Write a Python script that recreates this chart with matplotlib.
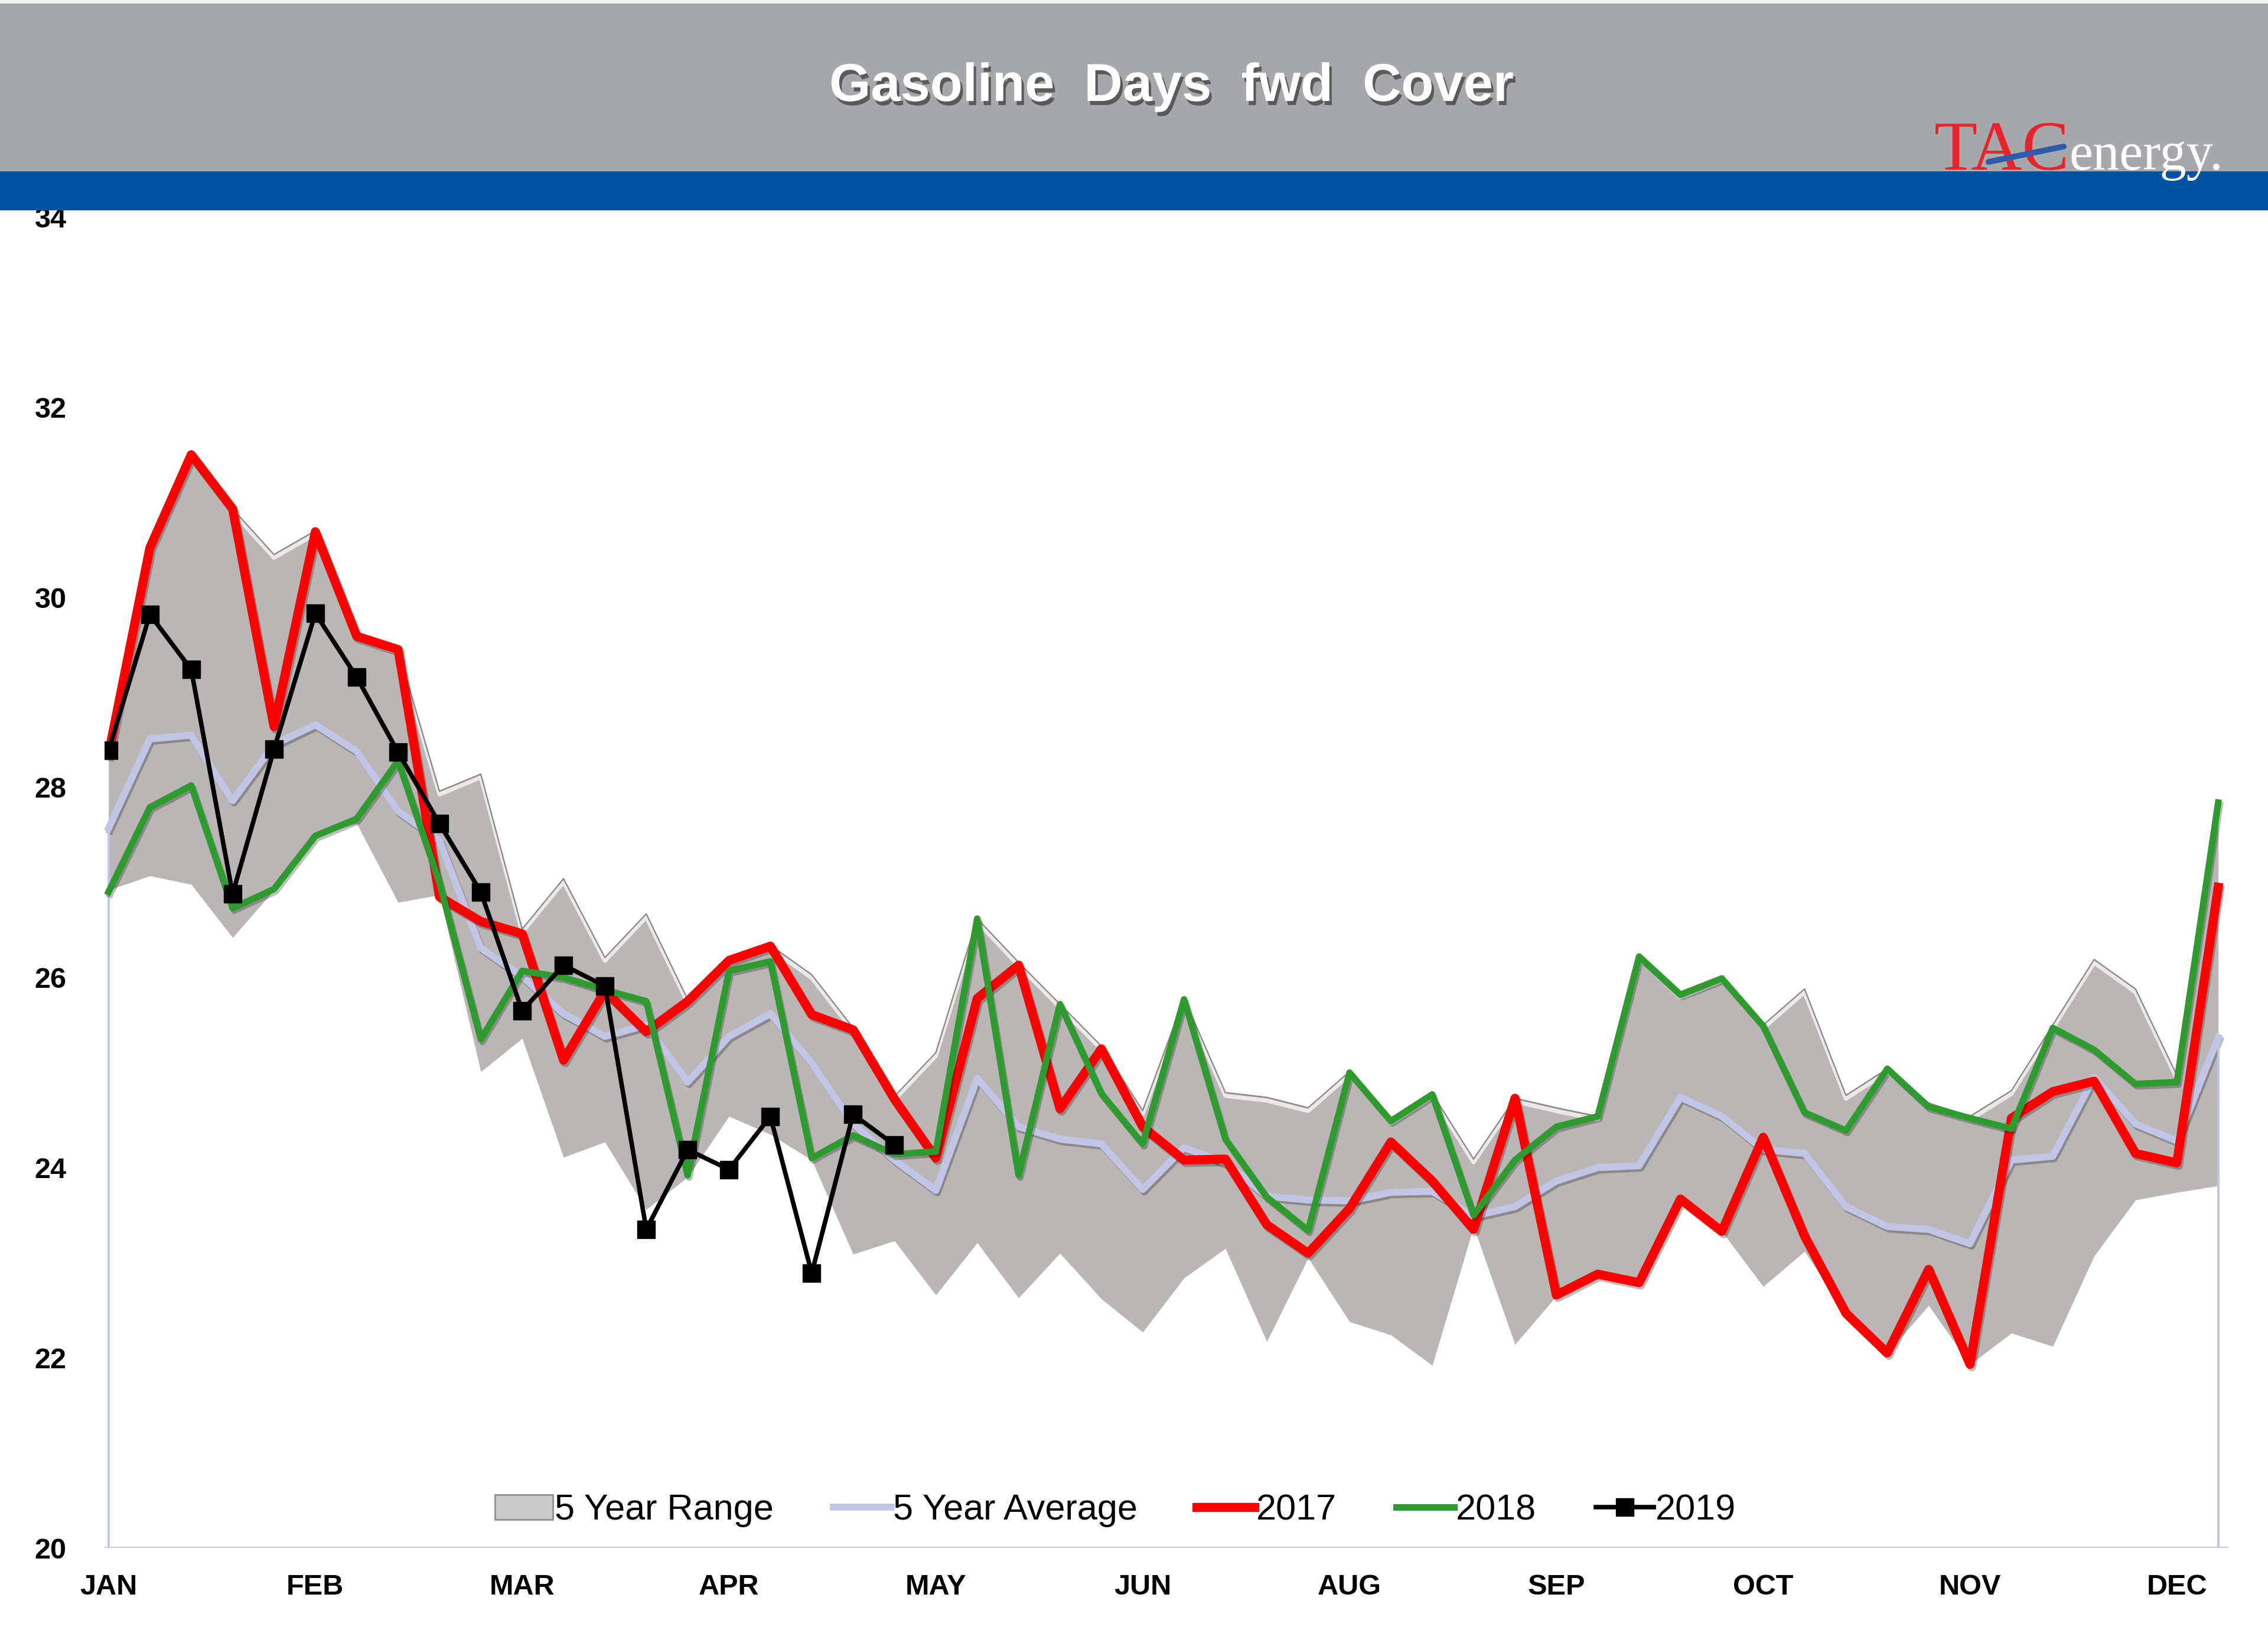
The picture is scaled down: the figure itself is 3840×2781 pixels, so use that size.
import matplotlib
matplotlib.use('Agg')
import matplotlib.pyplot as plt
import matplotlib.patheffects as pe
from matplotlib.patches import Rectangle, Patch
from matplotlib.lines import Line2D
import numpy as np

# weekly data, 52 weeks
weeks = np.arange(52)
month_labels = ['JAN', 'FEB', 'MAR', 'APR', 'MAY', 'JUN', 'AUG', 'SEP', 'OCT', 'NOV', 'DEC']
month_pos = list(range(0, 51, 5))

range_hi = [28.45, 30.52, 31.50, 30.93, 30.45, 30.70, 29.60, 29.45, 27.96, 28.14,
            26.51, 27.04, 26.21, 26.67, 25.77, 26.19, 26.34, 26.03, 25.47, 24.75,
            25.21, 26.62, 26.16, 25.72, 25.28, 24.60, 25.78, 24.79, 24.74, 24.63,
            25.01, 24.50, 24.78, 24.09, 24.73, 24.63, 24.54, 26.23, 25.82, 26.00,
            25.50, 25.88, 24.76, 25.04, 24.68, 24.54, 24.81, 25.50, 26.19, 25.88,
            24.97, 27.84]
range_lo = [26.92, 27.07, 26.98, 26.42, 26.92, 27.49, 27.62, 26.79, 26.87, 25.01,
            25.36, 24.11, 24.27, 23.56, 23.90, 24.54, 24.35, 24.08, 23.09, 23.23,
            22.66, 23.21, 22.63, 23.10, 22.62, 22.27, 22.84, 23.15, 22.17, 23.05,
            22.38, 22.24, 21.92, 23.38, 22.14, 22.65, 22.87, 22.78, 23.67, 23.33,
            22.75, 23.12, 22.46, 22.05, 22.55, 21.93, 22.26, 22.12, 23.07, 23.66,
            23.74, 23.81]
avg5 = [27.57, 28.51, 28.55, 27.86, 28.45, 28.66, 28.38, 27.75, 27.44, 26.31,
        26.01, 25.62, 25.38, 25.50, 24.90, 25.38, 25.62, 25.10, 24.46, 24.08,
        23.76, 24.94, 24.43, 24.30, 24.25, 23.77, 24.21, 24.05, 23.70, 23.66,
        23.65, 23.74, 23.75, 23.49, 23.59, 23.86, 24.00, 24.02, 24.74, 24.54,
        24.19, 24.15, 23.59, 23.38, 23.35, 23.20, 24.08, 24.12, 24.95, 24.46,
        24.28, 25.37]
y2017 = [28.35, 30.52, 31.50, 30.93, 28.64, 30.69, 29.59, 29.45, 26.85, 26.59,
         26.46, 25.13, 25.86, 25.43, 25.75, 26.18, 26.33, 25.61, 25.45, 24.72,
         24.10, 25.78, 26.13, 24.62, 25.25, 24.43, 24.08, 24.09, 23.40, 23.10,
         23.57, 24.27, 23.86, 23.35, 24.73, 22.66, 22.88, 22.79, 23.67, 23.33,
         24.32, 23.28, 22.47, 22.05, 22.93, 21.93, 24.52, 24.80, 24.91, 24.15,
         24.05, 26.95]
y2018 = [26.90, 27.79, 28.02, 26.73, 26.93, 27.49, 27.67, 28.28, 27.00, 25.35,
         26.07, 26.00, 25.87, 25.75, 23.92, 26.07, 26.17, 24.10, 24.34, 24.14,
         24.17, 26.62, 23.92, 25.72, 24.78, 24.25, 25.77, 24.30, 23.69, 23.34,
         25.00, 24.49, 24.77, 23.50, 24.08, 24.43, 24.54, 26.22, 25.82, 25.99,
         25.49, 24.58, 24.39, 25.04, 24.64, 24.52, 24.41, 25.47, 25.24, 24.88,
         24.90, 27.84]
y2019 = [28.39, 29.82, 29.24, 26.88, 28.40, 29.83, 29.16, 28.37, 27.62, 26.90,
         25.65, 26.13, 25.91, 23.35, 24.19, 23.98, 24.54, 22.89, 24.56, 24.24]

LAB_FONT = ['Liberation Sans', 'DejaVu Sans']
LEG_FONT = ['Liberation Sans Narrow', 'Liberation Sans', 'DejaVu Sans']

AVG_C = '#C3C5E6'

fig = plt.figure(figsize=(38.4, 27.81), dpi=100)
fig.patch.set_facecolor('white')

ax = fig.add_axes([0.04602, 0.05789, 0.93659, 0.81])
ax.set_xlim(-0.1, 51.25)
ax.set_ylim(20, 34)

# 5 year range (area with a light bevel on the top edge)
ax.fill_between(weeks, range_lo, range_hi, color='#BAB6B6', lw=0, zorder=1)
ax.plot(weeks, range_hi, color='#8C8787', lw=1.6, zorder=1.2,
        path_effects=[pe.SimpleLineShadow(offset=(0, -4), shadow_color='#F4F2F2',
                                          alpha=0.85, rho=1, linewidth=5),
                      pe.Normal()])

shadow = [pe.SimpleLineShadow(offset=(2, -3), alpha=0.25), pe.Normal()]

ax.plot(weeks, avg5, color=AVG_C, lw=8.5, zorder=2, path_effects=shadow)
ax.vlines([0, 51], 20, [avg5[0], avg5[-1]], color=AVG_C, lw=3, zorder=2)
ax.plot(weeks, y2017, color='#FF0000', lw=11, zorder=3, path_effects=shadow)
ax.plot(weeks, y2018, color='#2E9B2E', lw=8, zorder=4, path_effects=shadow)
ax.plot(weeks[:len(y2019)], y2019, color='black', lw=5.5, marker='s',
        markersize=22, zorder=5)

ax.axhline(20, color='#CFCFCF', lw=3, zorder=0.5)

for s in ax.spines.values():
    s.set_visible(False)
ax.set_yticks(np.arange(20, 35, 2))
ax.set_xticks(month_pos)
ax.set_xticklabels(month_labels)
ax.tick_params(axis='both', length=0, labelsize=35)
ax.tick_params(axis='y', pad=46)
ax.tick_params(axis='x', pad=32)
for lab in ax.get_xticklabels() + ax.get_yticklabels():
    lab.set_fontfamily(LAB_FONT)
    lab.set_fontweight('bold')

handles = [Patch(facecolor='#CACACA', edgecolor='#8F8F8F', lw=2),
           Line2D([], [], color=AVG_C, lw=8.5),
           Line2D([], [], color='#FF0000', lw=11),
           Line2D([], [], color='#2E9B2E', lw=8),
           Line2D([], [], color='black', lw=5.5, marker='s', markersize=22)]
labels = ['5 Year Range', '5 Year Average', '2017', '2018', '2019']
leg = ax.legend(handles, labels, loc='center', bbox_to_anchor=(0.476, 0.028),
                ncol=5, frameon=False, handlelength=1.6, handletextpad=0.05,
                columnspacing=1.65, prop={'family': LEG_FONT, 'size': 44})

# header bands
fig.add_artist(Rectangle((0, 0.8957), 1, 0.1043, transform=fig.transFigure,
                         facecolor='#A7A8AB', edgecolor='none', zorder=5))
fig.add_artist(Rectangle((0, 0.998), 1, 0.002, transform=fig.transFigure,
                         facecolor='#F2F2F2', edgecolor='none', zorder=5.1))
fig.add_artist(Rectangle((0, 0.8720), 1, 0.0237, transform=fig.transFigure,
                         facecolor='#0152A2', edgecolor='none', zorder=5))

fig.text(0.5166, 0.947, 'Gasoline  Days  fwd  Cover', ha='center', va='center',
         color='white', fontsize=65, fontweight='bold', family=LAB_FONT, zorder=6,
         path_effects=[pe.SimplePatchShadow(offset=(3, -5), shadow_rgbFace='#3A3A3A',
                                            alpha=0.7), pe.Normal()])

# TACenergy logo
fig.text(0.8529, 0.8968, 'TAC', ha='left', va='baseline', color='#E8232A',
         fontsize=86, family=['Liberation Serif', 'DejaVu Serif'], zorder=6)
fig.text(0.9124, 0.8968, 'energy.', ha='left', va='baseline', color='white',
         fontsize=65, family=['Liberation Serif', 'DejaVu Serif'], zorder=6)
fig.add_artist(Line2D([3367 / 3840, 3494 / 3840], [1 - 274 / 2781, 1 - 248 / 2781],
                      transform=fig.transFigure, color='#2E5BA8', lw=7,
                      solid_capstyle='round', zorder=6.5))

fig.savefig('out.png', dpi=100, facecolor='white')
